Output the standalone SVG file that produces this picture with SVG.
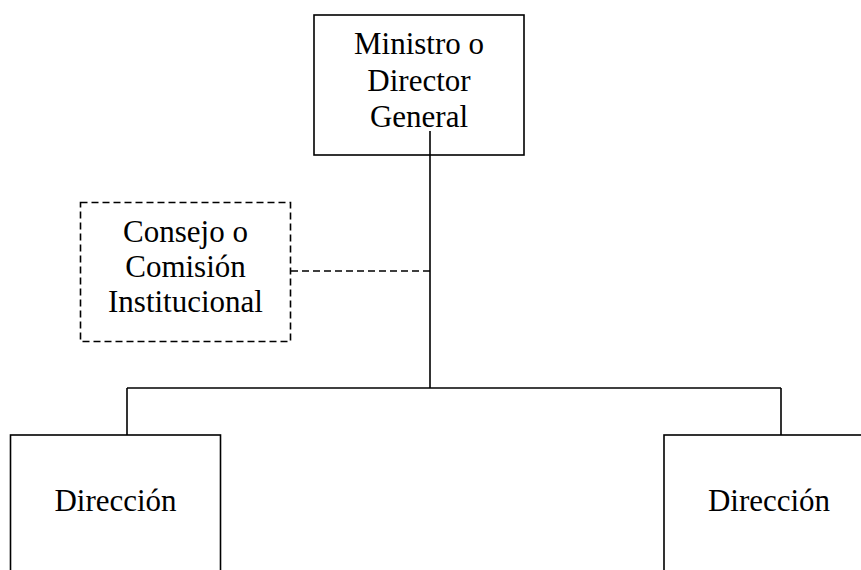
<svg xmlns="http://www.w3.org/2000/svg" width="861" height="570" viewBox="0 0 861 570">
<style>
.box{fill:#fff;stroke:#000;stroke-width:1.6}
.dbox{fill:#fff;stroke:#000;stroke-width:1.6;stroke-dasharray:7,4}
.ln{fill:none;stroke:#000;stroke-width:1.6}
.dln{fill:none;stroke:#000;stroke-width:1.6;stroke-dasharray:7,4}
.t{font-family:'Liberation Serif','Times New Roman',Times,serif;font-size:31px;fill:#000;text-anchor:middle}
</style>
<rect width="861" height="570" fill="#fff"/>
<g id="connectors">
<line class="ln" x1="430" y1="131" x2="430" y2="388"/>
<line class="ln" x1="127" y1="388" x2="781" y2="388"/>
<line class="ln" x1="127" y1="388" x2="127" y2="435"/>
<line class="ln" x1="781" y1="388" x2="781" y2="435"/>
<line class="dln" x1="291" y1="271" x2="430" y2="271"/>
</g>
<g id="ministro" font-family="Liberation Serif, Times New Roman, serif">
<rect class="box" x="314" y="15" width="210" height="140" style="fill:none"/>
<text class="t" x="419" y="54">Ministro o</text>
<text class="t" x="419" y="90.5">Director</text>
<text class="t" x="419" y="126.5">General</text>
</g>
<g id="consejo" font-family="Liberation Serif, Times New Roman, serif">
<rect class="dbox" x="80.5" y="202.5" width="210" height="139"/>
<text class="t" x="185.5" y="241.5">Consejo o</text>
<text class="t" x="185.5" y="277">Comisión</text>
<text class="t" x="185.5" y="311.5">Institucional</text>
</g>
<g id="direccion1" font-family="Liberation Serif, Times New Roman, serif">
<rect class="box" x="10.5" y="435" width="210" height="160"/>
<text class="t" x="115.5" y="510.5">Dirección</text>
</g>
<g id="direccion2" font-family="Liberation Serif, Times New Roman, serif">
<rect class="box" x="664" y="435" width="210" height="160"/>
<text class="t" x="769" y="510.5">Dirección</text>
</g>
</svg>
